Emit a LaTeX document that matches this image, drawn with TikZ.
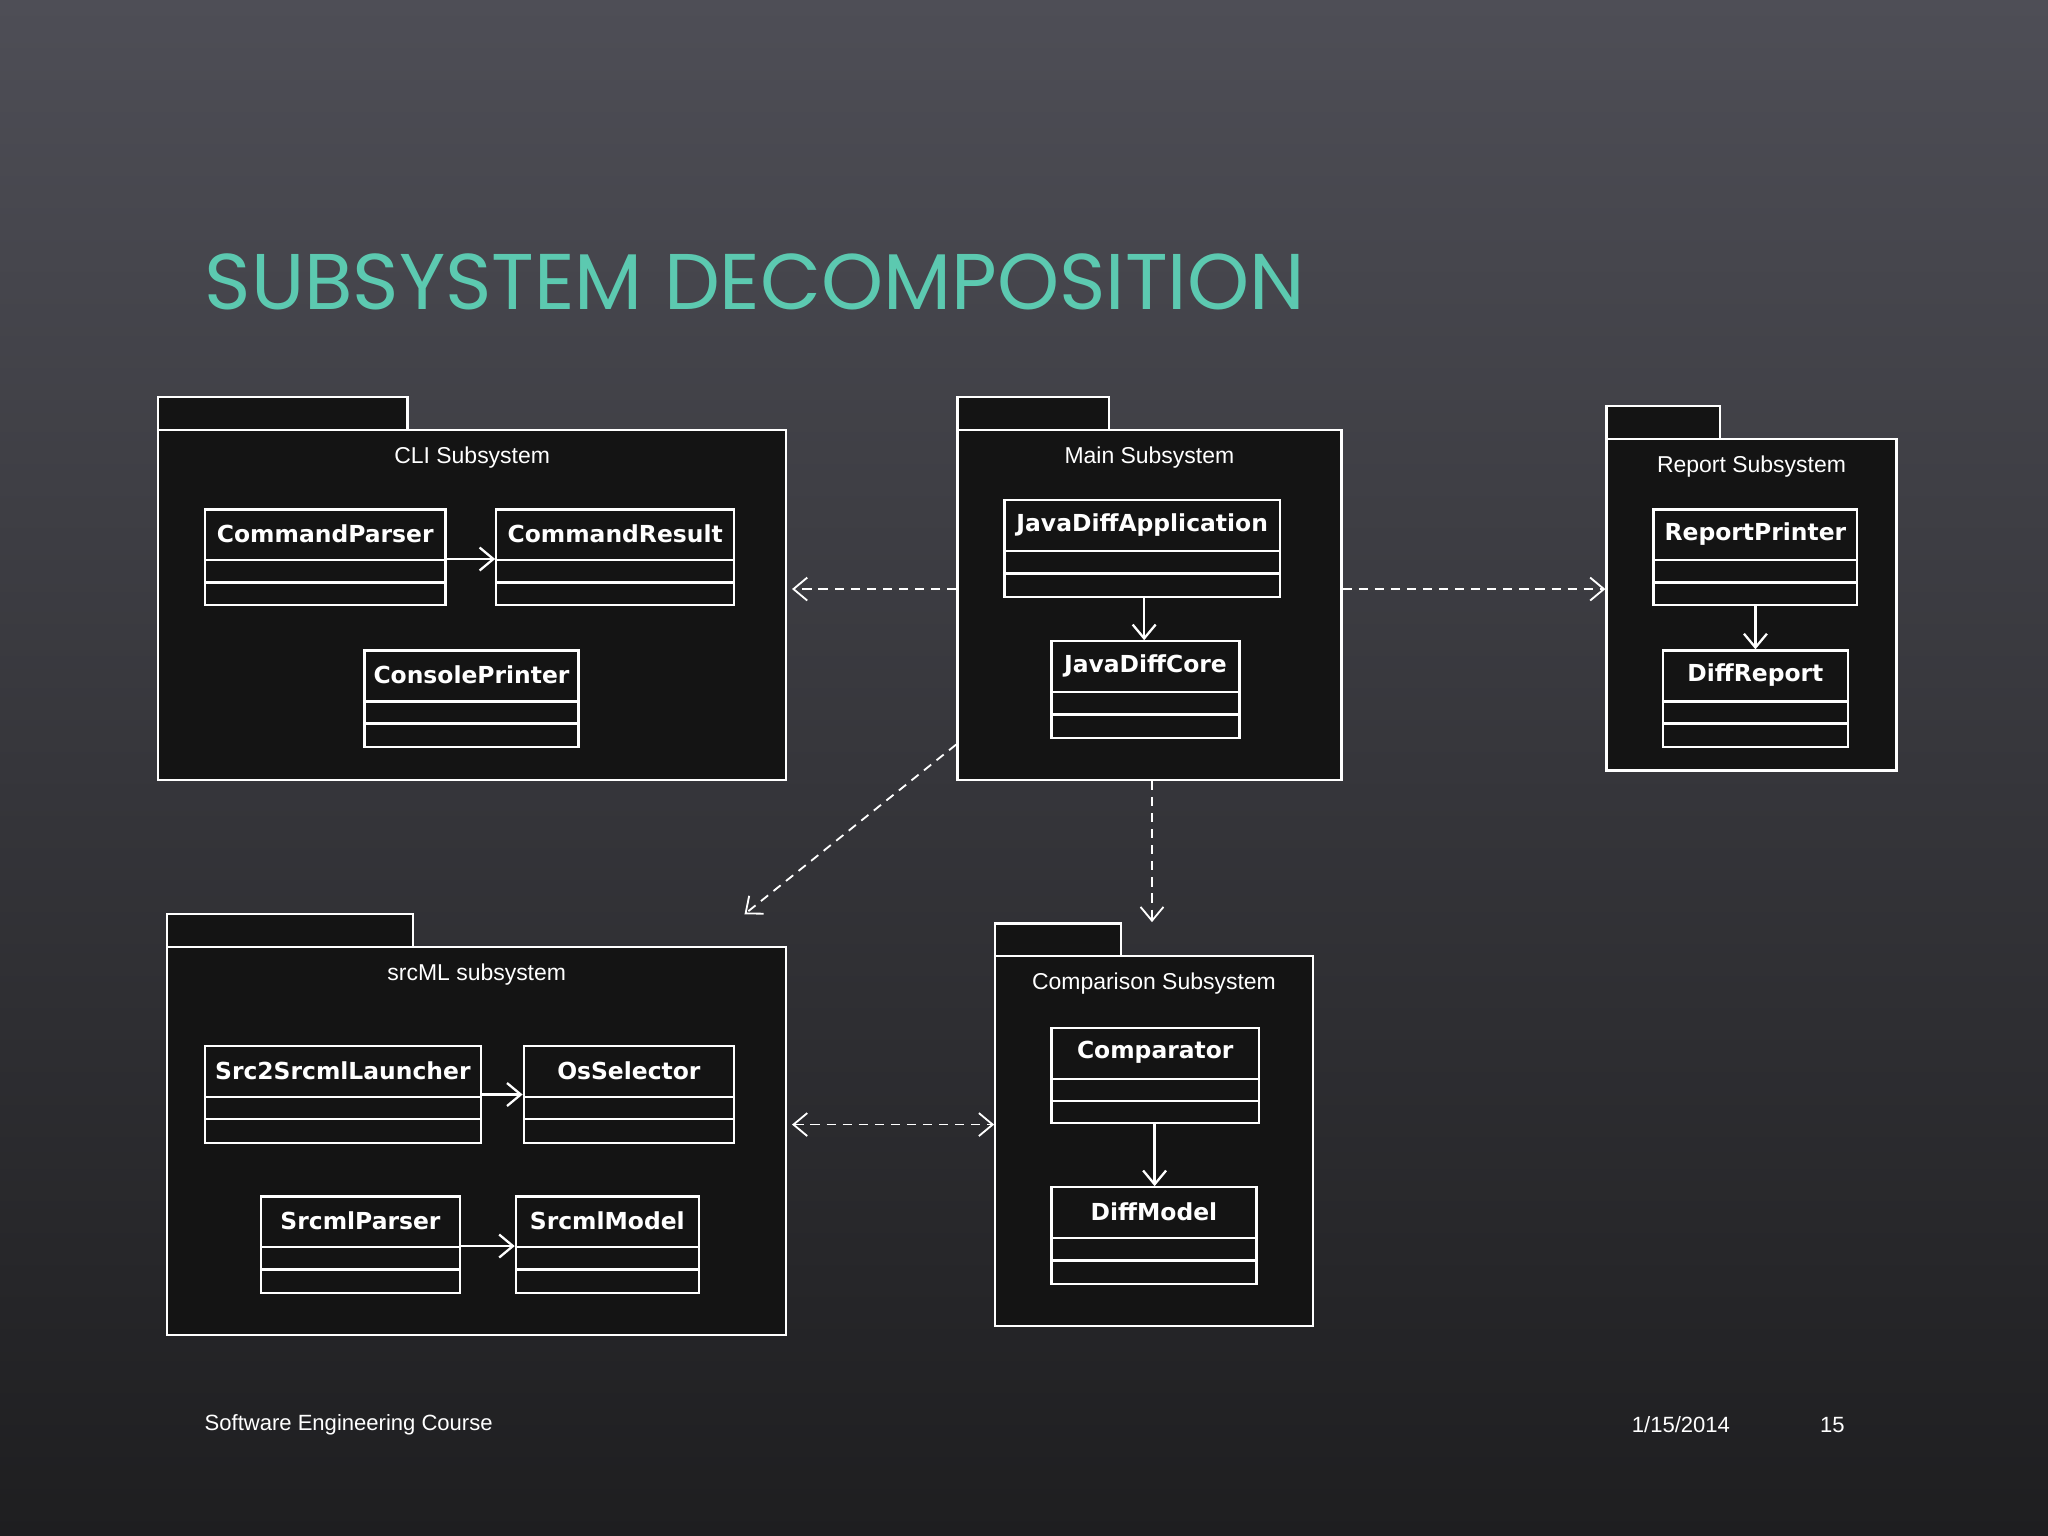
\documentclass[tikz,border=0pt]{standalone}
\usepackage{fontspec}
\setmainfont{Liberation Sans}
\newfontfamily\titlefont{Poppins}
\newfontfamily\clsfont{DejaVu Sans}
\usetikzlibrary{fit,arrows.meta}
\definecolor{teal1}{HTML}{5CC9B0}
\definecolor{bgtop}{HTML}{4E4E56}
\definecolor{bgbot}{HTML}{1E1E20}
\tikzset{
  x=0.01cm,y=-0.01cm,
  box/.style={draw=white,fill=black!92,line width=0.5pt,inner sep=0pt},
  dep/.style={draw=white!85,dashed,dash pattern=on 2pt off 1.5pt,line width=0.4pt,-{Straight Barb[length=3pt,width=5pt]}},
  asc/.style={draw=white,line width=0.5pt,-{Straight Barb[length=3pt,width=5pt]}},
}
\newcommand{\pkg}[9]{% name, tabx2, tabtop, x1,y1,x2,y2, titley, title
  \draw[box] (#4,#3) rectangle (#2,#5);
  \node[box,fit={(#4,#5)(#6,#7)}] (#1) {};
  \node[text=white,font=\fontsize{5pt}{6pt}\selectfont] at ({(#4+#6)/2},#8) {#9};
}
\newcommand{\cls}[6]{% name,x1,y1,x2,y2,text
  \node[box,fit={(#2,#3)(#4,#5)}] (#1) {};
  \draw[white,line width=0.5pt] (#2,#3+39) -- (#4,#3+39) (#2,#3+56) -- (#4,#3+56);
  \node[text=white,font=\clsfont\bfseries\fontsize{5.1pt}{6pt}\selectfont] at ({(#2+#4)/2},#3+19) {#6};
}
\begin{document}
\begin{tikzpicture}
\shade[top color=bgtop, bottom color=bgbot] (0,0) rectangle (1568,1176);
\useasboundingbox (0,0) rectangle (1568,1176);
\node[anchor=west,inner sep=0pt,text=teal1,font=\titlefont\fontsize{17.2pt}{20pt}\selectfont] (title) at (156,216) {SUBSYSTEM DECOMPOSITION};

\pkg{cli}{312}{304}{121}{329}{602}{597}{350}{CLI Subsystem}
\cls{cp}{157}{390}{341}{463}{CommandParser}
\cls{cr}{380}{390}{562}{463}{CommandResult}
\cls{con}{279}{498}{443}{572}{ConsolePrinter}

\pkg{main}{849}{304}{733}{329}{1027}{597}{350}{Main Subsystem}
\cls{jda}{769}{383}{980}{457}{JavaDiffApplication}
\cls{jdc}{805}{491}{949}{565}{JavaDiffCore}

\pkg{rep}{1317}{311}{1230}{336}{1452}{590}{357}{Report Subsystem}
\cls{rp}{1266}{390}{1422}{463}{ReportPrinter}
\cls{dr}{1273}{498}{1415}{572}{DiffReport}

\pkg{src}{316}{700}{128}{725}{602}{1022}{746}{srcML subsystem}
\cls{ssl}{157}{801}{368}{875}{Src2SrcmlLauncher}
\cls{os}{401}{801}{562}{875}{OsSelector}
\cls{sp}{200}{916}{352}{990}{SrcmlParser}
\cls{sm}{395}{916}{535}{990}{SrcmlModel}

\pkg{cmp}{858}{707}{762}{732}{1005}{1015}{753}{Comparison Subsystem}
\cls{comp}{805}{787}{964}{860}{Comparator}
\cls{dm}{805}{909}{962}{983}{DiffModel}

\draw[asc] (cp.east|-0,428) -- (cr.west|-0,428);
\draw[asc] (jda.south-|876,0) -- (jdc.north-|876,0);
\draw[asc] (rp.south-|1344,0) -- (dr.north-|1344,0);
\draw[asc] (ssl.east|-0,838) -- (os.west|-0,838);
\draw[asc] (sp.east|-0,954) -- (sm.west|-0,954);
\draw[asc] (comp.south-|884,0) -- (dm.north-|884,0);

\draw[dep] (main.west|-0,451) -- ([xshift=1pt]cli.east|-0,451);
\draw[dep] (main.east|-0,451) -- (rep.west|-0,451);
\draw[dep] (main.west|-0,570) -- (570,700);
\draw[dep] (main.south-|882,0) -- (882,706);
\draw[dep,{Straight Barb[length=3pt,width=5pt]}-{Straight Barb[length=3pt,width=5pt]}] ([xshift=1pt]src.east|-0,861) -- (cmp.west|-0,861);

\node[anchor=west,inner sep=0pt,text=white,font=\fontsize{4.8pt}{6pt}\selectfont] (f1) at (156,1091) {Software Engineering Course};
\node[text=white,font=\fontsize{4.8pt}{6pt}\selectfont] (f2) at (1287,1091) {1/15/2014};
\node[text=white,font=\fontsize{4.8pt}{6pt}\selectfont] (f3) at (1403,1091) {15};
\end{tikzpicture}
\end{document}
